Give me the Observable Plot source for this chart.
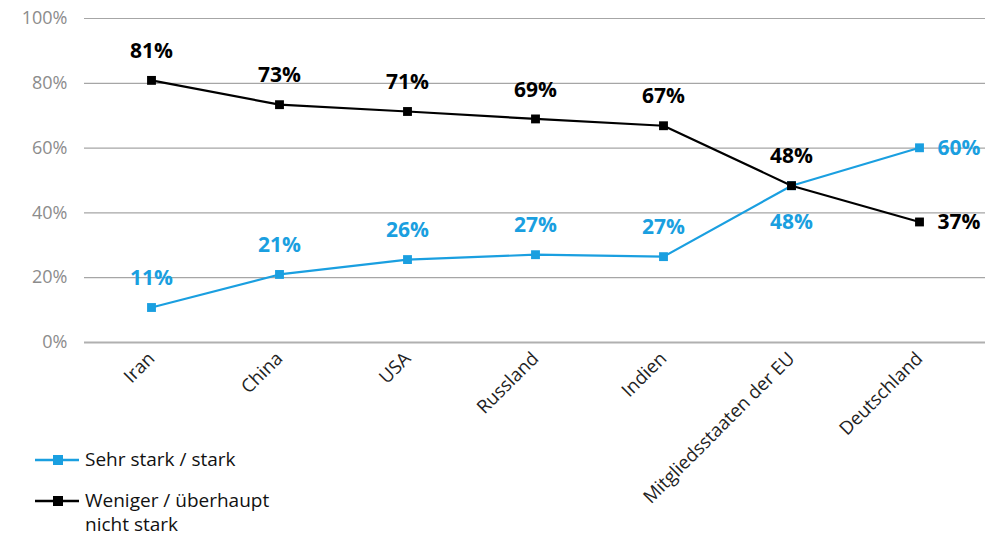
<!DOCTYPE html>
<html>
<head>
<meta charset="utf-8">
<script src="https://cdn.jsdelivr.net/npm/d3@7"></script>
<script src="https://cdn.jsdelivr.net/npm/@observablehq/plot@0.6"></script>
<style>
  html, body { margin: 0; padding: 0; background: #fff; }
  body { width: 997px; height: 538px; position: relative; overflow: hidden; font-family: "Open Sans", sans-serif; }
  #legend { position: absolute; left: 35px; top: 447px; font-size: 19px; color: #111; }
  .item { display: flex; align-items: flex-start; margin-bottom: 17px; line-height: 24px; }
  .item svg { margin-top: 6px; margin-right: 6px; flex: none; }
</style>
</head>
<body>
<div id="chart"></div>
<div id="legend"></div>
<script>
const categories = ["Iran", "China", "USA", "Russland", "Indien", "Mitgliedsstaaten der EU", "Deutschland"];
const seriesNames = ["Sehr stark / stark", "Weniger / überhaupt nicht stark"];
const strong = [10.8, 21, 25.6, 27.1, 26.5, 48.4, 60.1];
const strongLabels = ["11%", "21%", "26%", "27%", "27%", "48%", "60%"];
const weak = [80.9, 73.4, 71.3, 69.0, 66.9, 48.4, 37.2];
const weakLabels = ["81%", "73%", "71%", "69%", "67%", "48%", "37%"];
const yTicks = [0, 20, 40, 60, 80, 100];

const colors = { [seriesNames[0]]: "#1a9fe0", [seriesNames[1]]: "#000000" };

const data = [];
categories.forEach((c, i) => {
  data.push({ cat: c, series: seriesNames[0], value: strong[i], label: strongLabels[i] });
  data.push({ cat: c, series: seriesNames[1], value: weak[i], label: weakLabels[i] });
});

const last = categories[categories.length - 1];
const eu = categories[5];
const aboveLabels = data.filter(d => d.cat !== last && !(d.cat === eu && d.series === seriesNames[0]));
const belowLabels = data.filter(d => d.cat === eu && d.series === seriesNames[0]);
const rightLabels = data.filter(d => d.cat === last);

const chart = Plot.plot({
  width: 997,
  height: 538,
  marginLeft: 84,
  marginRight: 12,
  marginTop: 18,
  marginBottom: 196,
  style: { fontFamily: "Open Sans, sans-serif", background: "#fff", overflow: "visible" },
  x: { type: "point", domain: categories, padding: 0.5, label: null },
  y: { domain: [0, 100], label: null },
  marks: [
    Plot.ruleY(yTicks.filter(t => t > 0), { stroke: "#a6a6a6", strokeWidth: 1.2 }),
    Plot.ruleY([0], { stroke: "#b0b0b0", strokeWidth: 2.2 }),
    Plot.axisY({ ticks: yTicks, tickSize: 0, tickPadding: 17, tickFormat: d => d + "%", fontSize: 18, fill: "#8c8c8c", label: null }),
    Plot.axisX({ tickSize: 0, tickRotate: -45, tickPadding: 13, fontSize: 18.5, fill: "#222", label: null }),
    Plot.line(data, { x: "cat", y: "value", z: "series", stroke: d => colors[d.series], strokeWidth: 2.2 }),
    Plot.dot(data, { x: "cat", y: "value", symbol: "square", r: 5, fill: d => colors[d.series], stroke: "none" }),
    Plot.text(aboveLabels, { x: "cat", y: "value", text: "label", dy: -29, fill: d => colors[d.series], fontSize: 21, fontWeight: "bold" }),
    Plot.text(belowLabels, { x: "cat", y: "value", text: "label", dy: 37, fill: d => colors[d.series], fontSize: 21, fontWeight: "bold" }),
    Plot.text(rightLabels, { x: "cat", y: "value", text: "label", dx: 18, textAnchor: "start", fill: d => colors[d.series], fontSize: 21, fontWeight: "bold" })
  ]
});
document.getElementById("chart").appendChild(chart);

const legend = document.getElementById("legend");
seriesNames.forEach((name, i) => {
  const c = colors[name];
  const item = document.createElement("div");
  item.className = "item";
  item.innerHTML = `<svg width="44" height="14"><line x1="0" y1="7" x2="44" y2="7" stroke="${c}" stroke-width="2.5"/><rect x="18" y="2" width="10" height="10" fill="${c}"/></svg><span>${i === 1 ? "Weniger / überhaupt<br>nicht stark" : name}</span>`;
  legend.appendChild(item);
});
</script>
</body>
</html>
